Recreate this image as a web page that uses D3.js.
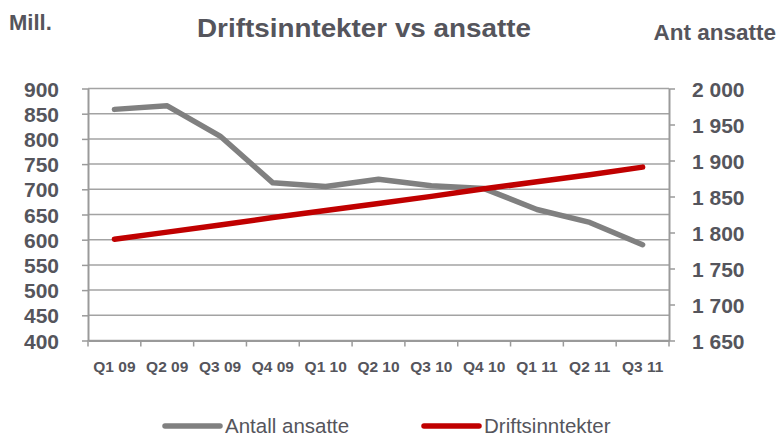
<!DOCTYPE html>
<html>
<head>
<meta charset="utf-8">
<script src="https://cdn.jsdelivr.net/npm/d3@7"></script>
<style>
  body { margin: 0; background: #fff; }
  text { font-family: "Liberation Sans", Arial, sans-serif; fill: #55555c; }
</style>
</head>
<body>
<div class="container"></div>
<script>
const quarters = ["Q1 09", "Q2 09", "Q3 09", "Q4 09", "Q1 10", "Q2 10", "Q3 10", "Q4 10", "Q1 11", "Q2 11", "Q3 11"];
const ansatte = [1971, 1976, 1934, 1869, 1864, 1874, 1865, 1861, 1832, 1814, 1783];
const driftsinntekter = [601, 615, 629, 644, 658, 672, 686, 701, 715, 729, 744];
const leftTicks = [400, 450, 500, 550, 600, 650, 700, 750, 800, 850, 900];
const rightTicks = [1650, 1700, 1750, 1800, 1850, 1900, 1950, 2000];

const w = 778;
const h = 437;
const plotLeft = 88, plotRight = 669, plotTop = 88.5, plotBottom = 340.5;

const svg = d3.select(".container").append("svg")
  .attr("width", w).attr("height", h);

const xScale = d3.scaleBand().domain(quarters).range([plotLeft, plotRight]);
const yLeft = d3.scaleLinear().domain([400, 900]).range([plotBottom, plotTop]);
const yRight = d3.scaleLinear().domain([1650, 2000]).range([plotBottom, plotTop]);

// gridlines
svg.append("g").selectAll("line")
  .data(leftTicks)
  .enter().append("line")
  .attr("x1", plotLeft).attr("x2", plotRight)
  .attr("y1", d => yLeft(d)).attr("y2", d => yLeft(d))
  .attr("stroke", "#a3a3a3").attr("stroke-width", 1.5);

const styleAxis = g => {
  g.select(".domain").attr("stroke", "#9a9a9a").attr("stroke-width", 2);
  g.selectAll(".tick line").attr("stroke", "#9a9a9a").attr("stroke-width", 1.5);
  g.selectAll(".tick text").style("font-weight", "bold").attr("fill", "#55555c");
};

const fmtSpace = d => d3.format(",")(d).replace(",", " ");

svg.append("g")
  .attr("transform", "translate(" + plotLeft + ",0)")
  .call(d3.axisLeft(yLeft).tickValues(leftTicks).tickSize(6).tickSizeOuter(0).tickPadding(23))
  .call(styleAxis)
  .call(g => g.selectAll(".tick text").style("font-size", "21px").attr("dy", "0.36em"));

svg.append("g")
  .attr("transform", "translate(" + plotRight + ",0)")
  .call(d3.axisRight(yRight).tickValues(rightTicks).tickFormat(fmtSpace).tickSize(6).tickSizeOuter(0).tickPadding(17))
  .call(styleAxis)
  .call(g => g.selectAll(".tick text").style("font-size", "21px").attr("dy", "0.36em"));

svg.append("g")
  .attr("transform", "translate(0," + plotBottom + ")")
  .call(d3.axisBottom(xScale).tickSize(6).tickSizeOuter(0).tickPadding(25))
  .call(styleAxis)
  .call(g => g.selectAll(".tick line").attr("transform", "translate(" + (-xScale.bandwidth() / 2) + ",0)"))
  .call(g => g.selectAll(".tick text").style("font-size", "15.5px").attr("dy", "0"));

// extra tick at the right end of x axis
svg.append("line")
  .attr("x1", plotRight).attr("x2", plotRight)
  .attr("y1", plotBottom).attr("y2", plotBottom + 6)
  .attr("stroke", "#9a9a9a").attr("stroke-width", 1.5);

const cx = d => xScale(d) + xScale.bandwidth() / 2;

const lineRight = d3.line()
  .x((d, i) => cx(quarters[i]))
  .y(d => yRight(d));
const lineLeft = d3.line()
  .x((d, i) => cx(quarters[i]))
  .y(d => yLeft(d));

svg.append("path")
  .datum(ansatte)
  .attr("d", lineRight)
  .attr("fill", "none")
  .attr("stroke", "#808080")
  .attr("stroke-width", 5.5)
  .attr("stroke-linecap", "round")
  .attr("stroke-linejoin", "round");

svg.append("path")
  .datum(driftsinntekter)
  .attr("d", lineLeft)
  .attr("fill", "none")
  .attr("stroke", "#c00000")
  .attr("stroke-width", 5.5)
  .attr("stroke-linecap", "round")
  .attr("stroke-linejoin", "round");

// titles
svg.append("text").attr("x", 197).attr("y", 37)
  .attr("textLength", 334).attr("lengthAdjust", "spacingAndGlyphs")
  .style("font-size", "26px").style("font-weight", "bold")
  .text("Driftsinntekter vs ansatte");
svg.append("text").attr("x", 9).attr("y", 30)
  .style("font-size", "22px").style("font-weight", "bold")
  .text("Mill.");
svg.append("text").attr("x", 776).attr("y", 40)
  .attr("text-anchor", "end")
  .style("font-size", "22.5px").style("font-weight", "bold")
  .text("Ant ansatte");

// legend
const legend = [
  { name: "Antall ansatte", color: "#808080", x: 165 },
  { name: "Driftsinntekter", color: "#c00000", x: 424 }
];
const lg = svg.append("g").selectAll("g").data(legend).enter().append("g");
lg.append("line")
  .attr("x1", d => d.x).attr("x2", d => d.x + 55)
  .attr("y1", 426).attr("y2", 426)
  .attr("stroke", d => d.color).attr("stroke-width", 5.5)
  .attr("stroke-linecap", "round");
lg.append("text")
  .attr("x", d => d.x + 60).attr("y", 433)
  .style("font-size", "20.5px")
  .text(d => d.name);
</script>
</body>
</html>
